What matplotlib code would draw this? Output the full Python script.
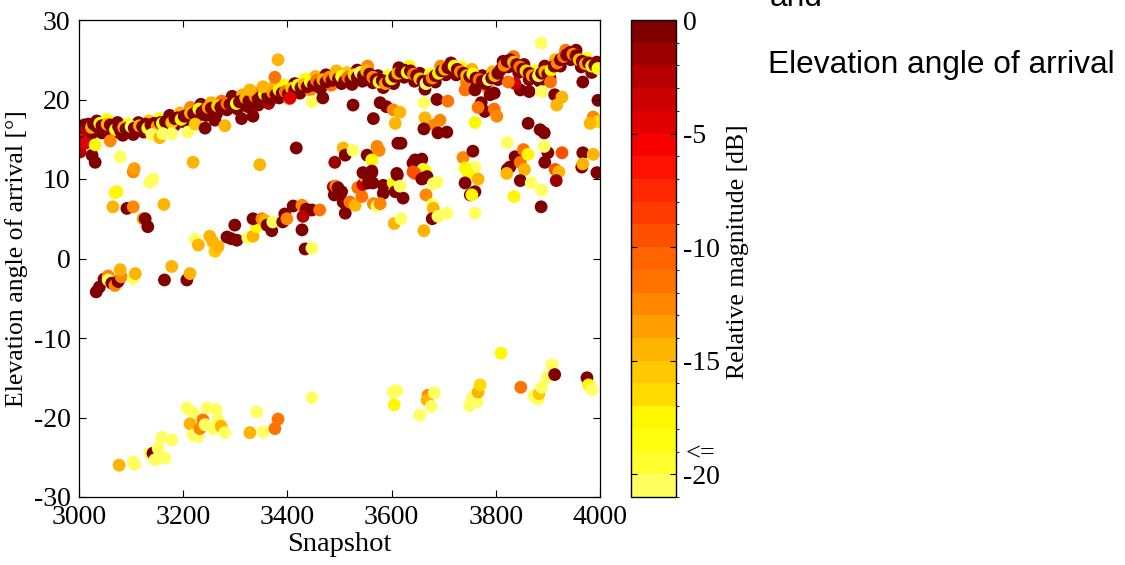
import matplotlib as mpl
mpl.use('Agg')
import matplotlib.pyplot as plt
from matplotlib.colors import ListedColormap, BoundaryNorm
import numpy as np

plt.rcParams['font.family'] = ['Liberation Serif', 'DejaVu Serif']
plt.rcParams['axes.unicode_minus'] = False

# main track (upper band), snapshot / elevation / magnitude in dB
track_snap = [3002, 3006, 3010, 3014, 3018, 3024, 3028, 3034, 3040, 3044, 3050, 3054, 3060, 3066, 3070, 3076,
              3080, 3086, 3090, 3096, 3100, 3106, 3112, 3116, 3122, 3128, 3132, 3138, 3144, 3150, 3156, 3160,
              3166, 3172, 3178, 3184, 3190, 3196, 3202, 3208, 3214, 3220, 3226, 3230, 3236, 3242, 3248, 3254,
              3260, 3266, 3272, 3278, 3284, 3290, 3296, 3302, 3308, 3314, 3320, 3326, 3332, 3338, 3344, 3350,
              3356, 3362, 3368, 3372, 3378, 3384, 3390, 3396, 3402, 3408, 3414, 3420, 3426, 3432, 3438, 3444,
              3450, 3456, 3462, 3468, 3474, 3480, 3486, 3492, 3498, 3504, 3510, 3516, 3522, 3528, 3534, 3540,
              3546, 3552, 3558, 3564, 3570, 3576, 3582, 3588, 3594, 3600, 3606, 3612, 3618, 3624, 3630, 3636,
              3642, 3648, 3654, 3660, 3666, 3672, 3678, 3684, 3690, 3696, 3702, 3708, 3714, 3720, 3726, 3732,
              3738, 3744, 3750, 3756, 3762, 3768, 3774, 3780, 3786, 3792, 3798, 3804, 3810, 3816, 3822, 3828,
              3834, 3840, 3846, 3852, 3858, 3864, 3870, 3876, 3882, 3888, 3894, 3900, 3906, 3912, 3918, 3924,
              3930, 3936, 3942, 3948, 3954, 3960, 3966, 3972, 3978, 3984, 3990, 3996]
track_elev = [15.2, 16.4, 16.8, 16.2, 16.9, 16.5, 16.9, 16.6, 17.0, 16.7, 16.4, 16.9, 16.8, 16.5, 16.2, 16.6,
              16.0, 16.5, 16.3, 16.1, 16.6, 16.4, 16.2, 16.7, 16.6, 16.9, 16.4, 16.8, 17.0, 16.6, 17.1, 17.0,
              17.2, 17.4, 17.1, 17.6, 17.7, 17.5, 17.9, 18.0, 18.3, 18.2, 18.5, 18.8, 18.4, 18.7, 19.0, 18.9,
              18.6, 19.2, 19.0, 19.3, 19.5, 19.4, 19.8, 19.5, 19.7, 19.9, 20.2, 19.8, 20.0, 20.4, 20.1, 20.3,
              20.7, 20.4, 20.0, 20.9, 20.6, 21.2, 20.8, 21.0, 20.7, 21.4, 21.2, 21.8, 21.5, 21.9, 21.6, 22.2,
              21.8, 22.4, 22.0, 22.5, 22.2, 22.8, 22.4, 23.0, 22.6, 22.9, 22.3, 22.8, 22.5, 23.1, 22.8, 23.4,
              23.0, 23.6, 23.2, 22.8, 22.5, 22.2, 22.4, 22.0, 22.3, 22.6, 22.9, 23.3, 23.5, 23.7, 23.4, 23.6,
              23.2, 23.0, 22.6, 22.3, 22.0, 22.4, 22.7, 23.0, 23.3, 23.6, 23.8, 24.0, 23.9, 24.2, 23.8, 23.5,
              23.3, 23.0, 22.9, 23.2, 22.7, 22.5, 22.3, 22.0, 22.5, 22.7, 23.0, 23.3, 23.8, 24.3, 24.8, 25.0,
              24.7, 24.4, 24.1, 23.8, 23.6, 23.3, 23.0, 22.8, 23.0, 23.3, 23.5, 23.2, 23.7, 24.2, 24.6, 25.0,
              25.4, 25.6, 25.9, 25.7, 25.5, 25.0, 24.8, 24.5, 24.6, 24.2, 24.3, 23.9]
track_mag = [-12, 0, 0, -3, 0, -15, 0, 0, -19, 0, 0, -15, 0, 0, -19, 0,
             0, -15, 0, 0, -21, 0, 0, -15, 0, 0, -19, 0, 0, -14, 0, -19,
             0, 0, -16, 0, 0, -18, 0, 0, -15, 0, 0, -19, 0, 0, -14, 0,
             0, -17, 0, 0, -12, 0, 0, -19, 0, 0, -15, 0, 0, -13, 0, 0,
             -19, 0, 0, -14, 0, -18, 0, -12, 0, -16, 0, -19, 0, -15, 0, -19,
             0, -12, 0, -15, 0, -13, 0, -15, 0, -19, 0, -12, 0, -17, 0, -21,
             0, -15, 0, -13, 0, -19, 0, -14, 0, -18, 0, -15, 0, 0, -19, 0,
             -12, 0, -16, 0, -21, 0, -13, 0, -18, 0, -15, 0, 0, -19, 0, -13,
             0, -15, 0, -19, 0, -12, 0, 0, -21, 0, -15, 0, 0, -13, 0, 0,
             -15, 0, -12, 0, -17, 0, -14, 0, -21, 0, -15, 0, -18, 0, -13, 0,
             -12, 0, 0, -13, 0, -16, 0, -14, 0, -18, 0, -19]

# second row of the track (gives the band its width)
track2_snap = [3004, 3014, 3024, 3034, 3044, 3054, 3064, 3074, 3084, 3094, 3104, 3114, 3124, 3134, 3144, 3154,
               3164, 3174, 3184, 3194, 3204, 3214, 3224, 3234, 3244, 3254, 3264, 3274, 3284, 3294, 3304, 3314,
               3324, 3334, 3344, 3354, 3364, 3374, 3384, 3394, 3404, 3414, 3424, 3434, 3444, 3454, 3464, 3474,
               3484, 3494, 3504, 3514, 3524, 3534, 3544, 3554, 3564, 3574, 3584, 3594, 3604, 3614, 3624, 3634,
               3644, 3654, 3664, 3674, 3684, 3694, 3704, 3714, 3724, 3734, 3744, 3754, 3764, 3774, 3784, 3794,
               3804, 3814, 3824, 3834, 3844, 3854, 3864, 3874, 3884, 3894, 3904, 3914, 3924, 3934, 3944, 3954,
               3964, 3974, 3984, 3994]
track2_elev = [14.9, 15.4, 15.7, 17.3, 15.8, 17.5, 15.7, 17.1, 15.5, 16.9, 15.6, 17.1, 15.9, 17.3, 16.1, 17.6,
               16.3, 18.0, 16.8, 18.3, 17.1, 19.0, 17.6, 19.4, 18.0, 19.6, 18.2, 19.8, 18.7, 20.4, 18.8, 20.6,
               19.1, 20.9, 19.3, 21.3, 19.5, 21.6, 20.2, 21.8, 20.1, 22.0, 20.8, 22.6, 21.2, 22.9, 21.4, 23.1,
               21.8, 23.6, 22.0, 23.4, 21.9, 23.7, 22.3, 24.2, 22.1, 23.0, 21.5, 23.0, 22.0, 24.0, 22.8, 24.2,
               22.3, 23.3, 21.3, 23.2, 22.2, 24.2, 23.1, 24.6, 23.1, 24.1, 22.2, 23.8, 21.8, 23.0, 21.5, 23.5,
               22.5, 24.8, 24.1, 25.4, 23.4, 24.4, 22.5, 23.6, 22.3, 24.2, 22.7, 25.0, 24.2, 26.2, 25.0, 26.2,
               24.1, 25.2, 23.4, 24.7]
track2_mag = [0, -12, 0, 0, 0, -19, 0, 0, 0, -19, 0, 0, 0, -16, 0, -19,
              0, 0, 0, -15, 0, -13, 0, 0, 0, -15, 0, -12, 0, 0, 0, -15,
              0, -13, 0, 0, -3, -15, 0, -18, -12, 0, 0, -19, -13, -15, 0, 0,
              -12, -15, 0, -16, 0, 0, 0, -13, 0, 0, 0, -19, 0, 0, 0, -18,
              0, 0, 0, -19, 0, -13, 0, 0, 0, -19, -12, -15, 0, 0, -13, -15,
              0, 0, 0, -12, 0, 0, 0, -19, 0, 0, 0, -15, 0, -12, 0, 0,
              0, -19, 0, 0]

# scattered points below the main track
upper_snap = [3002, 3005, 3012, 3025, 3031, 3031, 3060, 3079, 3104, 3106, 3140, 3155, 3161, 3178, 3209, 3223,
              3219, 3242, 3261, 3280, 3312, 3334, 3328, 3353, 3376, 3382, 3347, 3405, 3417, 3447, 3468, 3526,
              3565, 3578, 3590, 3603, 3616, 3607, 3618, 3662, 3664, 3687, 3708, 3682, 3693, 3662, 3689, 3706,
              3760, 3741, 3760, 3772, 3779, 3766, 3797, 3802, 3789, 3797, 3822, 3862, 3885, 3893, 3847, 3864,
              3837, 3824, 3887, 3888, 3913, 3927, 3917, 3905, 3967, 3996, 3987, 3996, 3981]
upper_elev = [13.4, 14.7, 14.5, 13.0, 12.1, 14.3, 14.8, 12.8, 10.9, 11.3, 15.6, 15.2, 15.7, 15.7, 15.9, 16.9,
              12.1, 16.4, 17.4, 16.7, 17.6, 17.9, 21.2, 21.6, 22.8, 25.0, 11.8, 20.2, 13.9, 19.7, 20.2, 19.3,
              17.6, 19.6, 19.1, 18.7, 18.4, 17.0, 14.5, 19.6, 17.7, 20.0, 19.8, 16.8, 17.4, 16.3, 15.8, 15.9,
              17.1, 21.2, 21.2, 19.6, 18.5, 19.0, 18.8, 17.9, 20.6, 20.8, 14.6, 17.0, 16.2, 15.8, 21.2, 21.0,
              22.0, 22.2, 27.1, 21.0, 20.6, 20.3, 19.3, 22.2, 22.2, 19.9, 17.8, 17.2, 17.0]
upper_mag = [-3, 0, -5, 0, 0, -18, -13, -21, -13, -14, -21, -15, -21, -21, -21, -16,
             -15, 0, 0, -15, 0, 0, -15, -15, -12, -15, -15, -5, 0, -21, 0, 0,
             0, 0, 0, -13, -15, -15, 0, -21, -15, 0, -12, -13, -13, 0, 0, 0,
             -18, -12, 0, 0, 0, -12, -12, -13, 0, 0, -21, 0, 0, 0, 0, 0,
             -4, -12, -21, -21, 0, -15, -15, -12, 0, 0, -13, -17, -15]

# middle band
mid_snap = [3069, 3073, 3065, 3092, 3104, 3123, 3127, 3132, 3136, 3142, 3163,
            3223, 3229, 3251, 3257, 3261, 3267, 3284, 3292, 3303, 3299, 3324, 3334, 3341, 3334, 3351,
            3357, 3361, 3370, 3372, 3391, 3395, 3399, 3411, 3428, 3436, 3447, 3462, 3430, 3428, 3434, 3447,
            3488, 3490, 3493, 3497, 3504, 3507, 3511, 3520, 3530, 3535, 3543, 3545, 3549, 3555, 3564, 3562,
            3545, 3584, 3584, 3603, 3607, 3622, 3611, 3616, 3565, 3572, 3578, 3605, 3618,
            3491, 3507, 3511, 3526, 3553, 3572, 3576, 3562, 3562, 3612,
            3641, 3645, 3658, 3648, 3660, 3664, 3641, 3645, 3610, 3661, 3668, 3658, 3680, 3687, 3666, 3678,
            3680, 3678, 3689, 3706, 3662,
            3737, 3756, 3760, 3741, 3747, 3766, 3741, 3751, 3760, 3754, 3760,
            3822, 3827, 3837, 3847, 3853, 3862, 3855, 3821, 3847, 3868, 3835, 3888, 3887,
            3900, 3894, 3893, 3927, 3914, 3921, 3916, 3967, 3987, 3965, 3967, 3994]
mid_elev = [8.3, 8.4, 6.5, 6.3, 6.5, 5.0, 5.0, 4.0, 9.6, 10.0, 6.8,
            2.4, 1.7, 2.8, 2.1, 0.9, 1.5, 2.7, 2.5, 2.3, 4.2, 2.6, 2.8, 4.0, 5.0, 5.0,
            4.8, 4.2, 3.5, 4.6, 4.6, 5.6, 5.0, 6.6, 6.7, 6.2, 6.1, 6.1, 5.3, 3.6, 1.2, 1.3,
            9.0, 8.0, 9.1, 8.9, 8.4, 7.1, 5.7, 7.1, 6.7, 8.9, 7.8, 9.3, 10.3, 9.5, 9.5, 10.8,
            10.8, 9.2, 8.2, 9.5, 8.4, 7.6, 10.5, 9.1, 6.9, 6.6, 6.9, 4.4, 5.0,
            12.1, 13.9, 13.0, 13.6, 13.0, 14.1, 13.6, 12.4, 11.0, 14.5,
            12.0, 12.4, 12.5, 11.5, 11.2, 11.1, 10.9, 10.7, 10.7, 10.1, 10.3, 10.0, 9.4, 9.6, 8.0, 6.8,
            6.3, 5.0, 5.3, 5.7, 3.5,
            12.7, 13.5, 11.5, 11.4, 10.7, 10.0, 9.5, 8.0, 8.4, 8.0, 5.7,
            11.2, 11.5, 12.8, 12.1, 13.7, 13.1, 11.2, 10.7, 9.8, 9.5, 7.8, 8.6, 6.5,
            13.3, 12.1, 14.1, 13.3, 11.2, 10.9, 9.8, 13.3, 13.1, 11.5, 11.9, 10.8]
mid_mag = [-18, -18, -15, 0, -13, -14, 0, 0, -21, -21, -15,
           -21, -15, -15, -15, -16, -15, 0, 0, 0, 0, -21, -15, -18, 0, -13,
           -15, 0, 0, -21, 0, 0, -13, 0, -13, 0, 0, -12, -3, 0, 0, -21,
           -3, 0, -13, 0, 0, 0, 0, -12, -15, -12, -12, -4, -15, 0, 0, 0,
           0, 0, 0, -18, 0, 0, 0, -21, -13, -21, -13, -15, -21,
           -2, -15, 0, -21, 0, -13, -13, -18, 0, 0,
           0, 0, 0, 0, -21, -18, -10, -10, 0, 0, 0, 0, -21, -21, -13, -21,
           -15, 0, -21, -21, -15,
           -13, 0, -21, -18, -18, -15, 0, 0, 0, -18, -21,
           0, 0, 0, -12, -12, -18, -15, -15, 0, -21, -18, -21, 0,
           0, 0, -21, -10, -10, -15, -2, 0, -15, 0, -15, 0]

# band just below zero
low_snap = [3033, 3039, 3048, 3056, 3056, 3063, 3069, 3075, 3081, 3079, 3104, 3108, 3164, 3178, 3207, 3213]
low_elev = [-4.2, -3.6, -2.6, -2.2, -2.7, -3.1, -3.4, -2.9, -2.3, -1.4, -2.5, -1.9, -2.7, -1.0, -2.7, -1.9]
low_mag = [0, 0, 0, -13, -21, 0, -13, 0, -13, -15, -21, -15, 0, -15, 0, -15]

# negative elevation cluster
neg_snap = [3077, 3104, 3107, 3136, 3142, 3146, 3152, 3159, 3165, 3178,
            3207, 3219, 3213, 3219, 3229, 3232, 3238, 3242, 3246, 3257, 3263, 3267, 3273, 3280,
            3328, 3341, 3353, 3376, 3382, 3447,
            3603, 3610, 3605, 3654, 3670, 3668, 3682, 3676,
            3750, 3755, 3764, 3766, 3770, 3810, 3848,
            3873, 3881, 3883, 3888, 3899, 3908, 3913, 3975, 3978, 3985]
neg_elev = [-26.0, -25.6, -25.9, -24.5, -24.5, -25.3, -23.9, -22.5, -25.1, -22.8,
            -18.8, -19.4, -20.8, -22.2, -22.4, -21.4, -20.3, -20.9, -18.8, -21.4, -19.0, -20.3, -21.1, -21.9,
            -21.9, -19.3, -21.8, -21.4, -20.2, -17.5,
            -16.8, -16.6, -18.4, -19.7, -17.2, -17.8, -16.9, -18.6,
            -18.5, -17.5, -18.0, -16.8, -15.9, -11.9, -16.2,
            -17.3, -17.7, -17.0, -16.2, -14.9, -13.4, -14.6, -15.0, -15.9, -16.5]
neg_mag = [-15, -21, -21, -21, 0, -21, -21, -21, -21, -21,
           -21, -21, -15, -21, -21, -13, -12, -21, -21, -21, -21, -21, -15, -21,
           -15, -21, -21, -12, -12, -21,
           -21, -21, -18, -21, -13, -15, -21, -21,
           -21, -21, -21, -15, -17, -18, -12,
           -21, -21, -16, -21, -21, -21, 0, 0, -18, -21]

# colour bands, from -21 dB up to 0 dB
band_colors = ['#ffff60', '#ffff30', '#ffff10', '#fff800', '#ffdc00', '#ffc800', '#ffb400', '#ffa000',
               '#ff8800', '#ff7400', '#ff6400', '#ff5000', '#ff3c00', '#ff2800', '#ff1000', '#f80000',
               '#e00000', '#cc0000', '#b40000', '#9c0000', '#800000']
cb_ticks = [0, -5, -10, -15, -20]

cmap = ListedColormap(band_colors)
cmap.set_over(band_colors[-1])
cmap.set_under(band_colors[0])
norm = BoundaryNorm(np.arange(-21, 1), cmap.N)

snap = track2_snap + track_snap + upper_snap + mid_snap + low_snap + neg_snap
elev = track2_elev + track_elev + upper_elev + mid_elev + low_elev + neg_elev
mag = track2_mag + track_mag + upper_mag + mid_mag + low_mag + neg_mag

fig = plt.figure(figsize=(11.25, 5.65), dpi=100)
ax = fig.add_axes([79/1125, 1 - 497/565, 521/1125, 477/565])
cax = fig.add_axes([631/1125, 1 - 497/565, 45/1125, 477/565])

sc = ax.scatter(snap, elev, c=mag, cmap=cmap, norm=norm, s=85, edgecolors='none')

ax.set_xlim(3000, 4000)
ax.set_ylim(-30, 30)
ax.set_xticks(np.arange(3000, 4001, 200))
ax.set_yticks(np.arange(-30, 31, 10))
ax.tick_params(direction='in', top=True, right=True, length=5, width=0.8, labelsize=20, pad=6)
for s in ax.spines.values():
    s.set_linewidth(0.9)
ax.set_xlabel("Snapshot", fontsize=20.5, labelpad=1)
ax.set_ylabel("Elevation angle of arrival [°]", fontsize=18.5, labelpad=4)

cb = fig.colorbar(sc, cax=cax, ticks=cb_ticks)
cb.ax.set_yticklabels([str(t) for t in cb_ticks])
cb.ax.tick_params(direction='in', left=True, right=True, length=4, width=0.8, labelsize=20, pad=5)
cb.outline.set_linewidth(1.0)
cb.ax.text(1.22, -19.1, "<=", transform=cb.ax.get_yaxis_transform(), fontsize=19, va='center', ha='left')
fig.text(738/1125, 1 - 252/565, "Relative magnitude [dB]", rotation=90, fontsize=18.5, ha='center', va='center')

fig.text(770/1125, 1 - 6/565, "and", family='Liberation Sans', fontsize=22.8, va='baseline')
fig.text(768/1125, 1 - 73/565, "Elevation angle of arrival", family='Liberation Sans', fontsize=22.8, va='baseline')

plt.savefig("out.png", dpi=100)
